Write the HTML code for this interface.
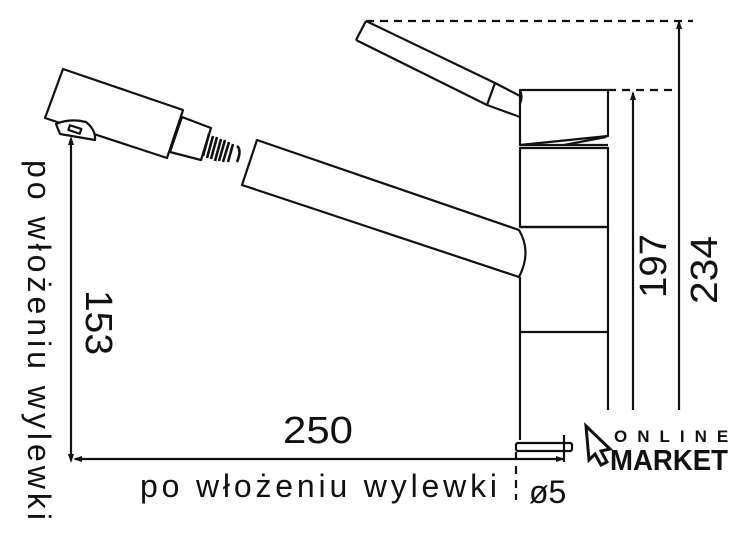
<!DOCTYPE html>
<html><head><meta charset="utf-8"><style>
html,body{margin:0;padding:0;background:#fff;width:740px;height:537px;overflow:hidden}
svg{display:block}
text{font-family:"Liberation Sans",sans-serif;fill:#111}
</style></head><body>
<svg width="740" height="537" viewBox="0 0 740 537" xmlns="http://www.w3.org/2000/svg">
<g fill="none" stroke="#111" stroke-width="2.2" stroke-linejoin="round">
<polygon points="63,69 183,110 167,158 45,118" fill="#fff"/>
<path d="M56,124 Q70,118 86,122 Q96,130 95,140 L60,134 Z" fill="#fff"/>
<rect x="69" y="127" width="12" height="5" transform="rotate(18 75 129)"/>
<polygon points="182,117 211,128 201,160 170,152" fill="#fff"/>
<g stroke-width="2.6">
<path d="M209,134 l-6,22 M213,136 l-6,22 M217,137 l-6,22 M221,139 l-6,22 M225,140 l-6,21 M229,142 l-6,20 M233,144 l-5,18 M237,146 q5,4 0,16"/>
</g>
<path d="M257,140 L519,230 Q532,252 519,277 L242,185 Z" fill="#fff"/>
<path d="M366,21 L495,83 L520,96 M356,40 L487,105 L520,117 M366,21 L356,40 M495,83 L487,105"/>
<path d="M520,90 L608,90 L608,136 L520,145 Z M520,90 Q523,97 520,104"/>
<path d="M520,145 L608,145 M564,145 L606,137"/>
<rect x="520" y="148" width="88" height="79"/>
<path d="M520,227 L608,227 M520,332 L608,332 M520,277 L520,440 M608,227 L608,410"/>
<rect x="516" y="443" width="56" height="8" rx="2"/>
<path d="M564,435 L564,462"/>
<path d="M633,93 L633,410 M679,21 L679,410"/>
<path d="M71,140 L71,460 M75,459 L563,459"/>
<path d="M366,21 L693,21 M608,90 L680,90 M516,452 L516,500" stroke-dasharray="8,6"/>
</g>
<g fill="#111">
<polygon points="633,91 630,100 636,100"/>
<polygon points="679,20 676,29 682,29"/>
<polygon points="71,136 68,145 74,145"/>
<polygon points="71,463 68,454 74,454"/>
<polygon points="73,459 82,456 82,462"/>
<polygon points="565,459 556,456 556,462"/>
</g>
<text transform="translate(666,298) rotate(-90)" font-size="38" textLength="64" lengthAdjust="spacingAndGlyphs">197</text>
<text transform="translate(717,304) rotate(-90)" font-size="38" textLength="68" lengthAdjust="spacingAndGlyphs">234</text>
<text transform="translate(86,290) rotate(90)" font-size="38" textLength="65" lengthAdjust="spacingAndGlyphs">153</text>
<text transform="translate(28,160) rotate(90)" font-size="32" textLength="360" lengthAdjust="spacing">po włożeniu wylewki</text>
<text x="283" y="443" font-size="38" textLength="70" lengthAdjust="spacingAndGlyphs">250</text>
<text x="140" y="497" font-size="32" textLength="357" lengthAdjust="spacing">po włożeniu wylewki</text>
<text x="529" y="503" font-size="32">ø5</text>
<path d="M586,426 L610,449 L601,451 L607,462 L601,465 L595,454 L589,460 Z" fill="#fff" stroke="#111" stroke-width="3"/>
<text x="614" y="442" font-size="17" font-weight="bold" letter-spacing="10">ONLINE</text>
<text x="610" y="470" font-size="29" font-weight="bold" textLength="118" lengthAdjust="spacingAndGlyphs">MARKET</text>
</svg>
</body></html>
